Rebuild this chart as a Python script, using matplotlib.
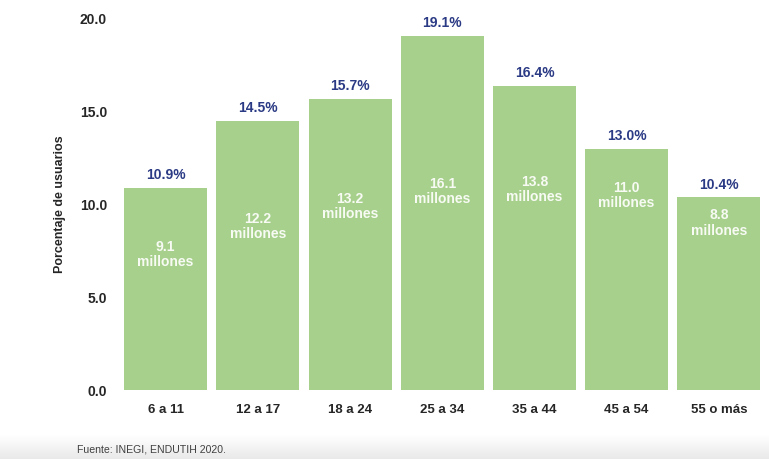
import numpy as np
import matplotlib
matplotlib.use("Agg")
import matplotlib.pyplot as plt

# Data
age_groups = ["6 a 11", "12 a 17", "18 a 24", "25 a 34", "35 a 44", "45 a 54", "55 o más"]
pct_users = [10.9, 14.5, 15.7, 19.1, 16.4, 13.0, 10.4]
millions_users = [9.1, 12.2, 13.2, 16.1, 13.8, 11.0, 8.8]
y_ticks = [0.0, 5.0, 10.0, 15.0, 20.0]

# Vertical placement of the in-bar labels (data units)
inner_label_y = [7.3, 8.8, 9.9, 10.7, 10.8, 10.5, 9.0]

BAR_COLOR = "#a8d08d"
PCT_COLOR = "#2b3a84"
TEXT_COLOR = "#262626"
FONT = ["Liberation Sans", "DejaVu Sans"]

plt.rcParams["font.family"] = FONT

fig = plt.figure(figsize=(7.69, 4.59), dpi=100)
fig.patch.set_facecolor("white")

# Soft grey band along the bottom edge
band = fig.add_axes([0, 0, 1, 24 / 459])
grad = np.linspace(0, 1, 64).reshape(-1, 1)
band.imshow(grad, aspect="auto", cmap=matplotlib.colors.LinearSegmentedColormap.from_list(
    "band", ["#e9e9e9", "#ffffff"]), extent=[0, 1, 0, 1], origin="lower")
band.set_axis_off()

ax = fig.add_axes([119.5 / 769, 1 - 390 / 459, (765 - 119.5) / 769, (390 - 19) / 459])
x = np.arange(len(age_groups))
bars = ax.bar(x, pct_users, width=0.9, color=BAR_COLOR, zorder=2)

ax.set_xlim(-0.5, len(age_groups) - 0.5)
ax.set_ylim(0, 20)
ax.set_yticks(y_ticks)
ax.set_yticklabels([f"{v:.1f}" for v in y_ticks], fontsize=10, fontweight="bold", color=TEXT_COLOR)
ax.set_xticks(x)
ax.set_xticklabels(age_groups, fontsize=9.5, fontweight="bold", color=TEXT_COLOR)
ax.tick_params(axis="both", length=0)
ax.tick_params(axis="y", pad=9)
ax.tick_params(axis="x", pad=10)
for s in ax.spines.values():
    s.set_visible(False)

ax.set_ylabel("Porcentaje de usuarios", fontsize=9, fontweight="bold", color=TEXT_COLOR, labelpad=10)

for xi, p, m, yi in zip(x, pct_users, millions_users, inner_label_y):
    ax.text(xi, p + 0.3, f"{p:.1f}%", ha="center", va="bottom", fontsize=10,
            fontweight="bold", color=PCT_COLOR)
    ax.text(xi, yi, f"{m:.1f}\nmillones", ha="center", va="center", fontsize=10,
            fontweight="bold", color="#f7fbf4", linespacing=1.1)

fig.text(77 / 769, 1 - 450 / 459, "Fuente: INEGI, ENDUTIH 2020.", fontsize=7.6,
         color="#404040", ha="left", va="center")

fig.savefig("out.png", dpi=100, facecolor="white")
